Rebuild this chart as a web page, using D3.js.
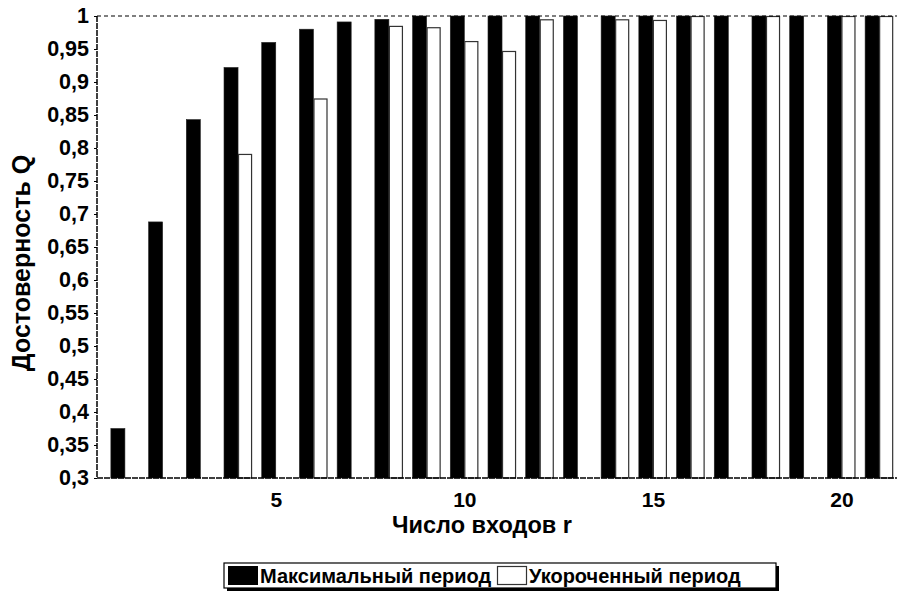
<!DOCTYPE html>
<html><head><meta charset="utf-8">
<script src="https://cdn.jsdelivr.net/npm/d3@7/dist/d3.min.js"></script>
<style>body{margin:0;background:#fff}text{font-family:"Liberation Sans",Arial,sans-serif;font-weight:bold;fill:#000}</style>
</head><body><svg id="c" width="897" height="594"></svg>
<script>
const rValues = [1,2,3,4,5,6,7,8,9,10,11,12,13,14,15,16,17,18,19,20,21];
const maxPeriod = [0.375,0.688,0.843,0.922,0.960,0.980,0.991,0.995,1,1,1,1,1,1,1,1,1,1,1,1,1];
const shortPeriod = [null,null,null,0.791,null,0.875,null,0.985,0.983,0.962,0.947,0.995,null,0.995,0.994,1,null,1,null,1,1];
const yTicks = [0.3,0.35,0.4,0.45,0.5,0.55,0.6,0.65,0.7,0.75,0.8,0.85,0.9,0.95,1];
const xTicks = [5,10,15,20];
const seriesNames = ["Максимальный период","Укороченный период"];
const yTitle = "Достоверность Q";
const xTitle = "Число входов r";

const svg = d3.select("#c");
const L=97, T=16, B=478, R=898;
const y = d3.scaleLinear().domain([0.3,1]).range([B,T]);
const x = d3.scaleLinear().domain([0.26,21.5]).range([L,R]);
const bw = (x(1)-x(0))*0.372;
const fmt = v => String(+v.toFixed(2)).replace(".",",");

// bars
svg.append("g").selectAll("rect").data(rValues.map((r,i)=>({r,v:maxPeriod[i]}))).join("rect")
  .attr("x",d=>x(d.r)-bw).attr("width",bw).attr("y",d=>y(d.v)).attr("height",d=>B-y(d.v))
  .attr("fill","#000").attr("stroke","#222").attr("stroke-width",0.6);
svg.append("g").selectAll("rect").data(rValues.map((r,i)=>({r,v:shortPeriod[i]})).filter(d=>d.v!=null)).join("rect")
  .attr("x",d=>x(d.r)+0.5).attr("width",bw-1).attr("y",d=>y(d.v)+0.5).attr("height",d=>B-y(d.v)-0.5)
  .attr("fill","#fff").attr("stroke","#333").attr("stroke-width",1.2);

// dashed frame lines
svg.append("line").attr("x1",L).attr("x2",R).attr("y1",T).attr("y2",T)
  .attr("stroke","#000").attr("stroke-width",1.2).attr("stroke-dasharray","4,3");
svg.append("line").attr("x1",L).attr("x2",R).attr("y1",B).attr("y2",B)
  .attr("stroke","#000").attr("stroke-width",1.5).attr("stroke-dasharray","6,1");
svg.append("line").attr("x1",L).attr("x2",L).attr("y1",T).attr("y2",B)
  .attr("stroke","#000").attr("stroke-width",1.5).attr("stroke-dasharray","6,1");

// y axis
const ya = d3.axisLeft(y).tickValues(yTicks).tickFormat(fmt).tickSize(3).tickPadding(5);
const gy = svg.append("g").attr("transform",`translate(${L},0)`).call(ya);
gy.select(".domain").remove();
gy.selectAll("text").style("font-size","21.5px").attr("font-family",null);
// x axis labels
const xa = d3.axisBottom(x).tickValues(xTicks).tickFormat(d=>d).tickSize(0).tickPadding(14);
const gx = svg.append("g").attr("transform",`translate(0,${B})`).call(xa);
gx.select(".domain").remove();
gx.selectAll("text").style("font-size","21px").attr("font-family",null);

// titles
svg.append("text").attr("transform","translate(30,263) rotate(-90)").attr("text-anchor","middle")
  .style("font-size","25px").text(yTitle);
svg.append("text").attr("x",482).attr("y",533).attr("text-anchor","middle")
  .style("font-size","23.5px").text(xTitle);

// legend
const lg = svg.append("g");
lg.append("rect").attr("x",227).attr("y",566).attr("width",552).attr("height",25).attr("fill","#000");
lg.append("rect").attr("x",224).attr("y",563).attr("width",552).attr("height",25).attr("fill","#fff").attr("stroke","#000").attr("stroke-width",1.2);
lg.append("rect").attr("x",228).attr("y",566).attr("width",30).attr("height",19).attr("fill","#000");
lg.append("text").attr("x",260).attr("y",583).style("font-size","20px").text(seriesNames[0]);
lg.append("rect").attr("x",497.5).attr("y",566.5).attr("width",29).attr("height",18).attr("fill","#fff").attr("stroke","#333").attr("stroke-width",1.2);
lg.append("text").attr("x",529).attr("y",583).style("font-size","20px").text(seriesNames[1]);
</script></body></html>
